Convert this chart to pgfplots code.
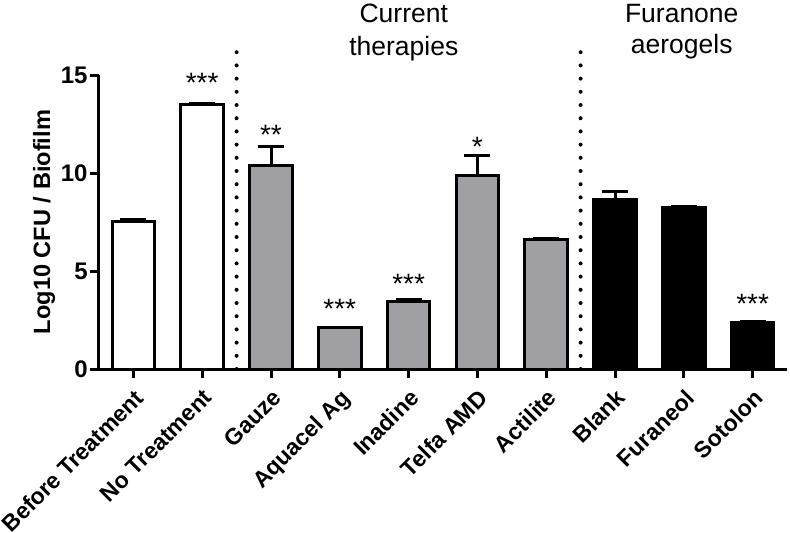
\documentclass[border=0pt]{standalone}
\usepackage{pgfplots}
\pgfplotsset{compat=1.18}
\usepackage{fontspec}
\setmainfont{Liberation Sans}
\definecolor{bargray}{RGB}{160,160,164}

\begin{document}
\begin{tikzpicture}
\begin{axis}[
    name=ax,
    scale only axis,
    width=344pt, height=147pt,
    xmin=-0.5, xmax=9.5,
    ymin=0, ymax=15,
    axis lines=left,
    axis line style={line width=1.5pt, -},
    xtick={0,...,9},
    xticklabels={Before Treatment, No Treatment, Gauze, Aquacel Ag, Inadine, Telfa AMD, Actilite, Blank, Furaneol, Sotolon},
    ytick={0,5,10,15},
    tick style={line width=1.5pt, black},
    major tick length=4.5pt,
    tick align=outside,
    xticklabel style={rotate=45, anchor=north east, font=\fontsize{11.5}{13}\selectfont\bfseries},
    yticklabel style={font=\fontsize{12}{13}\selectfont\bfseries, inner sep=1pt},
    /pgf/number format/assume math mode=true,
    ylabel={Log10 CFU / Biofilm},
    every axis y label/.style={at={(axis description cs:-0.08,0.5)}, rotate=90, anchor=center, font=\fontsize{11.8}{14}\selectfont\bfseries},
    clip=false,
]
% untreated controls
\addplot[ybar, bar width=0.62, bar shift=0pt, fill=white, draw=black, line width=1.5pt,
    error bars/.cd, y dir=plus, y explicit,
    error bar style={line width=1.5pt},
    error mark options={rotate=90, mark size=6.5pt, line width=1.5pt}]
coordinates {
    (0,7.55) +- (0,0.1)
    (1,13.52) +- (0,0.05)
};
% current therapies
\addplot[ybar, bar width=0.62, bar shift=0pt, fill=bargray, draw=black, line width=1.5pt,
    error bars/.cd, y dir=plus, y explicit,
    error bar style={line width=1.5pt},
    error mark options={rotate=90, mark size=6.5pt, line width=1.5pt}]
coordinates {
    (2,10.37) +- (0,1.0)
    (3,2.1) +- (0,0.03)
    (4,3.43) +- (0,0.13)
    (5,9.86) +- (0,1.05)
    (6,6.62) +- (0,0.04)
};
% furanone aerogels
\addplot[ybar, bar width=0.62, bar shift=0pt, fill=black, draw=black, line width=1.5pt,
    error bars/.cd, y dir=plus, y explicit,
    error bar style={line width=1.5pt},
    error mark options={rotate=90, mark size=6.5pt, line width=1.5pt}]
coordinates {
    (7,8.67) +- (0,0.38)
    (8,8.25) +- (0,0.06)
    (9,2.38) +- (0,0.05)
};
% group separators
\addplot[black, line width=2pt, line cap=round, dash pattern=on 0pt off 6.6pt] coordinates {(1.5,0) (1.5,16.3)};
\addplot[black, line width=2pt, line cap=round, dash pattern=on 0pt off 6.6pt] coordinates {(6.5,0) (6.5,16.3)};
% significance stars
\addplot[draw=none, mark=none, nodes near coords, point meta=explicit symbolic,
    every node near coord/.append style={anchor=base, font=\fontsize{14}{16}\selectfont, inner sep=0pt}]
coordinates {
    (1,14.1) [***]
    (2,11.45) [**]
    (3,2.57) [***]
    (4,3.84) [***]
    (5,10.83) [*]
    (9,2.82) [***]
};
% group titles
\addplot[draw=none, mark=none, nodes near coords, point meta=explicit symbolic,
    every node near coord/.append style={anchor=base, font=\fontsize{13.25}{15}\selectfont, inner sep=0pt}]
coordinates {
    (3.93,17.7) [Current]
    (3.93,16.02) [therapies]
    (7.97,17.7) [Furanone]
    (7.97,16.1) [aerogels]
};
\end{axis}
\pgfresetboundingbox
\path[use as bounding box] ([xshift=-49.5pt,yshift=-81.5pt]ax.south west) rectangle ([xshift=1.5pt,yshift=37.5pt]ax.north east);
\end{tikzpicture}
\end{document}
